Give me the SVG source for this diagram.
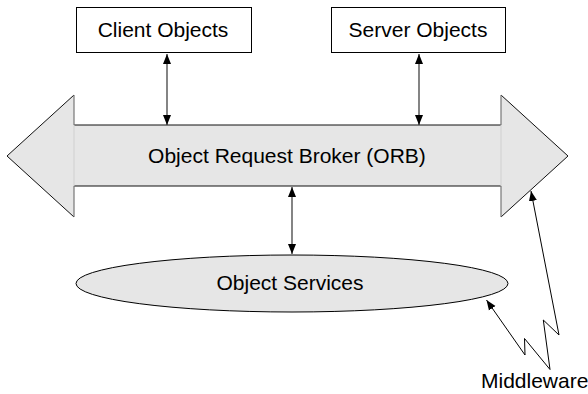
<svg xmlns="http://www.w3.org/2000/svg" width="588" height="394" viewBox="0 0 588 394">
<style>
text{font-family:"Liberation Sans",Arial,sans-serif;font-size:21px;fill:#000}
.box{fill:#fff;stroke:#000;stroke-width:1}
.conn{stroke:#333;stroke-width:1.2;fill:none}
.zig{stroke:#000;stroke-width:1;fill:none}
</style>
<defs>
<marker id="ah" viewBox="0 0 10 10" refX="10" refY="5" markerWidth="10" markerHeight="10" markerUnits="userSpaceOnUse" orient="auto-start-reverse">
<path d="M0,1 L10,5 L0,9 Z" fill="#000"/>
</marker>
</defs>
<g id="orb">
<polygon points="7,156 74,95 74,125 501,125 501,95 568,156 501,217 501,186 74,186 74,217" fill="#e6e6e6" stroke="none"/>
<path d="M74,95 L7,156 L74,217 M501,95 L568,156 L501,217 M74,125 H501 M74,186 H501" stroke="#111" stroke-width="1" fill="none"/>
<path d="M74,95 V125 M74,186 V217 M501,95 V125 M501,186 V217" stroke="#777" stroke-width="1.2" fill="none"/>
<path d="M74,125 V186 M501,125 V186" stroke="#d0d0d0" stroke-width="1" fill="none"/>
<text x="287" y="163" text-anchor="middle">Object Request Broker (ORB)</text>
</g>
<g id="client">
<rect class="box" x="76.5" y="7.5" width="175" height="45"/>
<text x="163" y="37" text-anchor="middle">Client Objects</text>
</g>
<g id="server">
<rect class="box" x="331.5" y="7.5" width="174" height="45"/>
<text x="418" y="37" text-anchor="middle">Server Objects</text>
</g>
<g id="services">
<ellipse cx="292" cy="283.5" rx="216" ry="28.5" fill="#e6e6e6" stroke="#000" stroke-width="1"/>
<text x="290" y="290" text-anchor="middle">Object Services</text>
</g>
<g id="middleware">
<text x="481" y="388">Middleware</text>
</g>
<g id="connectors">
<line class="conn" x1="167" y1="54" x2="167" y2="125" marker-start="url(#ah)" marker-end="url(#ah)"/>
<line class="conn" x1="419" y1="54" x2="419" y2="125" marker-start="url(#ah)" marker-end="url(#ah)"/>
<line class="conn" x1="292" y1="187" x2="292" y2="254" marker-start="url(#ah)" marker-end="url(#ah)"/>
<polyline class="zig" points="550,369.5 524.5,338.5 525,355 486.5,300" marker-end="url(#ah)"/>
<polyline class="zig" points="550,369.5 543.3,320 559,335 531,191" marker-end="url(#ah)"/>
</g>
</svg>
